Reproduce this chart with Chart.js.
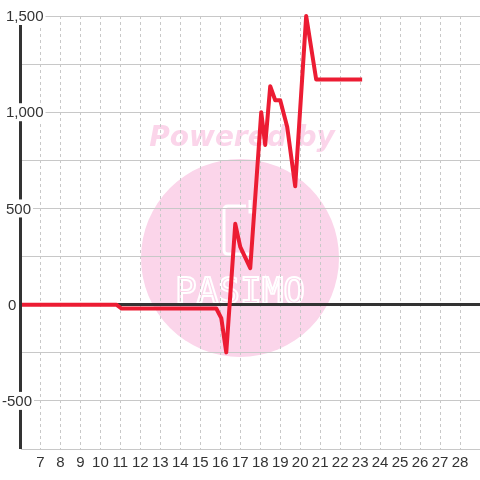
<!DOCTYPE html>
<html>
<head>
<meta charset="utf-8">
<script src="https://cdn.jsdelivr.net/npm/chart.js@4"></script>
<style>
  html, body { margin: 0; padding: 0; background: #fff; }
  #wrap { width: 480px; height: 480px; position: relative; }
</style>
</head>
<body>
<div id="wrap"><canvas id="chart"></canvas></div>
<script>
// Series values (x = day, y = value)
const xValues = [6, 10.8, 11.05, 15.8, 16.05, 16.3, 16.75, 17.0, 17.5, 18.05, 18.25, 18.5, 18.75, 19.0, 19.35, 19.75, 20.3, 20.8, 23.1];
const yValues = [0, 0, -20, -20, -70, -248, 420, 300, 190, 1000, 830, 1135, 1062, 1062, 923, 615, 1500, 1170, 1170];

// Axis ranges and labelled ticks
const xMin = 6;
const xMax = 29;
const xLabelFrom = 7;
const xLabelTo = 28;
const yMin = -750;
const yMax = 1500;
const yStep = 250;
const yLabels = [1500, 1000, 500, 0, -500];

const fontFamily = "'Liberation Sans', Arial, sans-serif";

// Watermark behind the grid
const watermark = {
  id: 'watermark',
  beforeDraw(chart) {
    const ctx = chart.ctx;
    ctx.save();
    ctx.fillStyle = '#fbd5ea';
    ctx.beginPath();
    ctx.arc(240, 258, 99, 0, Math.PI * 2);
    ctx.fill();

    ctx.font = "bold oblique 28px 'DejaVu Sans'";
    ctx.textAlign = 'center';
    ctx.textBaseline = 'alphabetic';
    ctx.fillText('Powered by', 242, 146);

    ctx.strokeStyle = '#ffffff';
    ctx.lineWidth = 3;
    ctx.beginPath();
    ctx.moveTo(246, 206);
    ctx.lineTo(228, 206);
    ctx.quadraticCurveTo(224, 206, 224, 210);
    ctx.lineTo(224, 250);
    ctx.quadraticCurveTo(224, 254, 228, 254);
    ctx.lineTo(252, 254);
    ctx.stroke();
    ctx.beginPath();
    ctx.moveTo(250, 200);
    ctx.lineTo(250, 212);
    ctx.lineTo(255, 212);
    ctx.stroke();

    ctx.lineWidth = 2;
    ctx.font = "36px 'DejaVu Sans Mono'";
    ctx.strokeText('PASIMO', 240, 303);
    ctx.restore();
  }
};

// Y axis: dark axis line plus labels on a white backdrop, laid over the axis
const yAxisLabels = {
  id: 'yAxisLabels',
  afterDatasetsDraw(chart) {
    const ctx = chart.ctx;
    const y = chart.scales.y;
    const area = chart.chartArea;
    ctx.save();
    ctx.strokeStyle = '#333';
    ctx.lineWidth = 3;
    ctx.beginPath();
    ctx.moveTo(area.left, area.top);
    ctx.lineTo(area.left, area.bottom);
    ctx.stroke();

    ctx.font = '15px ' + fontFamily;
    ctx.textAlign = 'left';
    ctx.textBaseline = 'middle';
    yLabels.forEach(v => {
      const text = v.toLocaleString('en-US');
      const py = y.getPixelForValue(v);
      const w = ctx.measureText(text).width;
      const x = v < 0 ? 2 : (v === 0 ? 8 : 6);
      ctx.fillStyle = '#ffffff';
      ctx.fillRect(x - 1, py - 9, w + 3, 18);
      ctx.fillStyle = '#333';
      ctx.fillText(text, x, py + 1);
    });
    ctx.restore();
  }
};

const chart = new Chart(document.getElementById('chart'), {
  type: 'line',
  data: {
    datasets: [{
      data: xValues.map((x, i) => ({ x: x, y: yValues[i] })),
      borderColor: '#ec1c33',
      borderWidth: 4,
      borderJoinStyle: 'round',
      borderCapStyle: 'butt',
      pointRadius: 0,
      tension: 0,
      fill: false,
      clip: false
    }]
  },
  options: {
    responsive: true,
    maintainAspectRatio: false,
    animation: false,
    layout: {
      padding: { left: 20.5, top: 16, right: 0, bottom: 3 }
    },
    plugins: {
      legend: { display: false },
      tooltip: { enabled: false }
    },
    scales: {
      x: {
        type: 'linear',
        min: xMin,
        max: xMax,
        afterFit: s => { s.paddingLeft = 0; s.paddingRight = 0; },
        grid: {
          color: '#c8c8c8',
          lineWidth: 1,
          drawTicks: false
        },
        border: {
          display: false,
          dash: [3, 3]
        },
        ticks: {
          stepSize: 1,
          autoSkip: false,
          maxRotation: 0,
          padding: 5,
          color: '#333',
          font: { size: 15, family: fontFamily },
          callback: v => (v >= xLabelFrom && v <= xLabelTo) ? String(v) : ''
        }
      },
      y: {
        min: yMin,
        max: yMax,
        afterFit: s => { s.width = 0; },
        grid: {
          color: ctx => ctx.tick && ctx.tick.value === 0 ? '#333' : '#c8c8c8',
          lineWidth: ctx => ctx.tick && ctx.tick.value === 0 ? 3 : 1,
          drawTicks: false
        },
        border: { display: false },
        ticks: {
          display: false,
          stepSize: yStep
        }
      }
    }
  },
  plugins: [watermark, yAxisLabels]
});
</script>
</body>
</html>
